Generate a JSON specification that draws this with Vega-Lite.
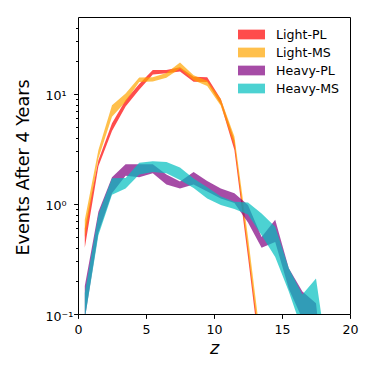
{
  "$schema": "https://vega.github.io/schema/vega-lite/v6.json",
  "width": 272,
  "height": 297,
  "autosize": "none",
  "padding": {"left": 78, "top": 17, "right": 24, "bottom": 60},
  "background": "white",
  "config": {
    "font": "DejaVu Sans",
    "view": {"stroke": "#000000", "strokeWidth": 1}
  },
  "data": {
    "values": [
      {"s": "Light-PL", "z": 0.5, "lo": 0.40, "hi": 0.60},
      {"s": "Light-PL", "z": 1.5, "lo": 2.2, "hi": 2.5},
      {"s": "Light-PL", "z": 2.5, "lo": 4.6, "hi": 5.4},
      {"s": "Light-PL", "z": 3.5, "lo": 7.7, "hi": 8.8},
      {"s": "Light-PL", "z": 4.5, "lo": 10.9, "hi": 12.3},
      {"s": "Light-PL", "z": 5.5, "lo": 15.0, "hi": 16.5},
      {"s": "Light-PL", "z": 6.5, "lo": 15.4, "hi": 16.5},
      {"s": "Light-PL", "z": 7.5, "lo": 16.0, "hi": 17.5},
      {"s": "Light-PL", "z": 8.5, "lo": 12.9, "hi": 14.3},
      {"s": "Light-PL", "z": 9.5, "lo": 12.8, "hi": 14.2},
      {"s": "Light-PL", "z": 10.5, "lo": 8.0, "hi": 9.0},
      {"s": "Light-PL", "z": 11.5, "lo": 3.1, "hi": 3.8},
      {"s": "Light-PL", "z": 12.5, "lo": 0.33, "hi": 0.41},
      {"s": "Light-PL", "z": 13.5, "lo": 0.032, "hi": 0.04},
      {"s": "Light-MS", "z": 0.5, "lo": 0.50, "hi": 0.72},
      {"s": "Light-MS", "z": 1.5, "lo": 2.6, "hi": 3.1},
      {"s": "Light-MS", "z": 2.5, "lo": 6.2, "hi": 7.9},
      {"s": "Light-MS", "z": 3.5, "lo": 8.5, "hi": 10.1},
      {"s": "Light-MS", "z": 4.5, "lo": 12.8, "hi": 14.1},
      {"s": "Light-MS", "z": 5.5, "lo": 13.0, "hi": 14.2},
      {"s": "Light-MS", "z": 6.5, "lo": 14.0, "hi": 15.5},
      {"s": "Light-MS", "z": 7.5, "lo": 17.0, "hi": 19.3},
      {"s": "Light-MS", "z": 8.5, "lo": 13.3, "hi": 14.8},
      {"s": "Light-MS", "z": 9.5, "lo": 11.8, "hi": 13.2},
      {"s": "Light-MS", "z": 10.5, "lo": 7.8, "hi": 9.0},
      {"s": "Light-MS", "z": 11.5, "lo": 3.4, "hi": 4.1},
      {"s": "Light-MS", "z": 12.5, "lo": 0.37, "hi": 0.5},
      {"s": "Light-MS", "z": 13.5, "lo": 0.037, "hi": 0.05},
      {"s": "Heavy-PL", "z": 0.5, "lo": 0.09, "hi": 0.18},
      {"s": "Heavy-PL", "z": 1.5, "lo": 0.55, "hi": 0.85},
      {"s": "Heavy-PL", "z": 2.5, "lo": 1.25, "hi": 1.75},
      {"s": "Heavy-PL", "z": 3.5, "lo": 1.8, "hi": 2.3},
      {"s": "Heavy-PL", "z": 4.5, "lo": 1.75, "hi": 2.3},
      {"s": "Heavy-PL", "z": 5.5, "lo": 1.9, "hi": 2.3},
      {"s": "Heavy-PL", "z": 6.5, "lo": 1.5, "hi": 1.85},
      {"s": "Heavy-PL", "z": 7.5, "lo": 1.38, "hi": 1.6},
      {"s": "Heavy-PL", "z": 8.5, "lo": 1.5, "hi": 1.95},
      {"s": "Heavy-PL", "z": 9.5, "lo": 1.3, "hi": 1.62},
      {"s": "Heavy-PL", "z": 10.5, "lo": 1.12, "hi": 1.38},
      {"s": "Heavy-PL", "z": 11.5, "lo": 1.02, "hi": 1.25},
      {"s": "Heavy-PL", "z": 12.5, "lo": 0.68, "hi": 0.98},
      {"s": "Heavy-PL", "z": 13.5, "lo": 0.40, "hi": 0.50},
      {"s": "Heavy-PL", "z": 14.5, "lo": 0.45, "hi": 0.72},
      {"s": "Heavy-PL", "z": 15.5, "lo": 0.17, "hi": 0.26},
      {"s": "Heavy-PL", "z": 16.5, "lo": 0.09, "hi": 0.16},
      {"s": "Heavy-PL", "z": 17.5, "lo": 0.06, "hi": 0.125},
      {"s": "Heavy-PL", "z": 18.5, "lo": 0.005, "hi": 0.01},
      {"s": "Heavy-MS", "z": 0.5, "lo": 0.09, "hi": 0.155},
      {"s": "Heavy-MS", "z": 1.5, "lo": 0.52, "hi": 0.80},
      {"s": "Heavy-MS", "z": 2.5, "lo": 1.21, "hi": 1.71},
      {"s": "Heavy-MS", "z": 3.5, "lo": 1.38, "hi": 1.72},
      {"s": "Heavy-MS", "z": 4.5, "lo": 1.85, "hi": 2.37},
      {"s": "Heavy-MS", "z": 5.5, "lo": 1.95, "hi": 2.45},
      {"s": "Heavy-MS", "z": 6.5, "lo": 1.9, "hi": 2.4},
      {"s": "Heavy-MS", "z": 7.5, "lo": 1.65, "hi": 2.15},
      {"s": "Heavy-MS", "z": 8.5, "lo": 1.4, "hi": 1.7},
      {"s": "Heavy-MS", "z": 9.5, "lo": 1.12, "hi": 1.42},
      {"s": "Heavy-MS", "z": 10.5, "lo": 0.98, "hi": 1.17},
      {"s": "Heavy-MS", "z": 11.5, "lo": 0.9, "hi": 1.05},
      {"s": "Heavy-MS", "z": 12.5, "lo": 0.8, "hi": 1.03},
      {"s": "Heavy-MS", "z": 13.5, "lo": 0.52, "hi": 0.82},
      {"s": "Heavy-MS", "z": 14.5, "lo": 0.33, "hi": 0.62},
      {"s": "Heavy-MS", "z": 15.5, "lo": 0.16, "hi": 0.26},
      {"s": "Heavy-MS", "z": 16.5, "lo": 0.07, "hi": 0.15},
      {"s": "Heavy-MS", "z": 17.5, "lo": 0.08, "hi": 0.21},
      {"s": "Heavy-MS", "z": 18.5, "lo": 0.02, "hi": 0.03}
    ]
  },
  "encoding": {
    "x": {
      "field": "z", "type": "quantitative",
      "scale": {"domain": [0, 20], "nice": false, "zero": false},
      "axis": {
        "values": [0, 5, 10, 15, 20],
        "title": "z",
        "titleFont": "DejaVu Sans",
        "titleFontStyle": "italic",
        "titleFontWeight": "normal",
        "titleFontSize": 17.6,
        "titleColor": "#000000",
        "titleBaseline": "alphabetic",
        "titleY": 39,
        "grid": false,
        "domain": false,
        "tickColor": "#000000",
        "tickSize": 4.4,
        "tickWidth": 1,
        "labelFontSize": 12.6,
        "labelColor": "#000000",
        "labelPadding": 5,
        "labelFlush": false,
        "labelOverlap": false
      }
    },
    "y": {
      "field": "lo", "type": "quantitative",
      "scale": {"type": "log", "domain": [0.1, 50], "nice": false},
      "axis": {
        "values": [0.1, 0.2, 0.3, 0.4, 0.5, 0.6, 0.7, 0.8, 0.9, 1, 2, 3, 4, 5, 6, 7, 8, 9, 10, 20, 30, 40],
        "labelExpr": "datum.value == 0.1 ? '10⁻¹' : datum.value == 1 ? '10⁰' : datum.value == 10 ? '10¹' : ''",
        "title": "Events After 4 Years",
        "titleFont": "DejaVu Sans",
        "titleFontWeight": "normal",
        "titleFontSize": 17.6,
        "titleColor": "#000000",
        "titleBaseline": "alphabetic",
        "titleAngle": 270,
        "titleX": -49.5,
        "titleY": 150,
        "titleAlign": "center",
        "grid": false,
        "domain": false,
        "tickColor": "#000000",
        "tickWidth": 1,
        "tickSize": {"condition": {"test": "datum.value == 0.1 || datum.value == 1 || datum.value == 10", "value": 4.4}, "value": 2.5},
        "labelFontSize": 12.6,
        "labelColor": "#000000",
        "labelAlign": "left",
        "labelBaseline": "middle",
        "labelPadding": 28.6,
        "labelOffset": 2,
        "labelOverlap": false,
        "labelFlush": false
      }
    },
    "y2": {"field": "hi"},
    "color": {
      "field": "s", "type": "nominal",
      "scale": {
        "domain": ["Light-PL", "Light-MS", "Heavy-PL", "Heavy-MS"],
        "range": ["#ff0000", "#ffa500", "#800080", "#00bfbf"]
      },
      "legend": {
        "title": null,
        "orient": "none",
        "legendX": 164,
        "legendY": 8,
        "padding": 0,
        "symbolType": "M-1.5,-0.54L1.5,-0.54L1.5,0.54L-1.5,0.54Z",
        "symbolSize": 324,
        "symbolOpacity": 0.7,
        "symbolStrokeWidth": 1,
        "labelFontSize": 12.6,
        "labelColor": "#000000",
        "labelOffset": 15,
        "rowPadding": 1
      }
    }
  },
  "layer": [
    {"transform": [{"filter": "datum.s == 'Light-PL'"}], "mark": {"type": "area", "clip": true, "fillOpacity": 0.7, "strokeOpacity": 0.7, "strokeWidth": 1}},
    {"transform": [{"filter": "datum.s == 'Light-MS'"}], "mark": {"type": "area", "clip": true, "fillOpacity": 0.7, "strokeOpacity": 0.7, "strokeWidth": 1}},
    {"transform": [{"filter": "datum.s == 'Heavy-PL'"}], "mark": {"type": "area", "clip": true, "fillOpacity": 0.7, "strokeOpacity": 0.7, "strokeWidth": 1}},
    {"transform": [{"filter": "datum.s == 'Heavy-MS'"}], "mark": {"type": "area", "clip": true, "fillOpacity": 0.7, "strokeOpacity": 0.7, "strokeWidth": 1}}
  ]
}
